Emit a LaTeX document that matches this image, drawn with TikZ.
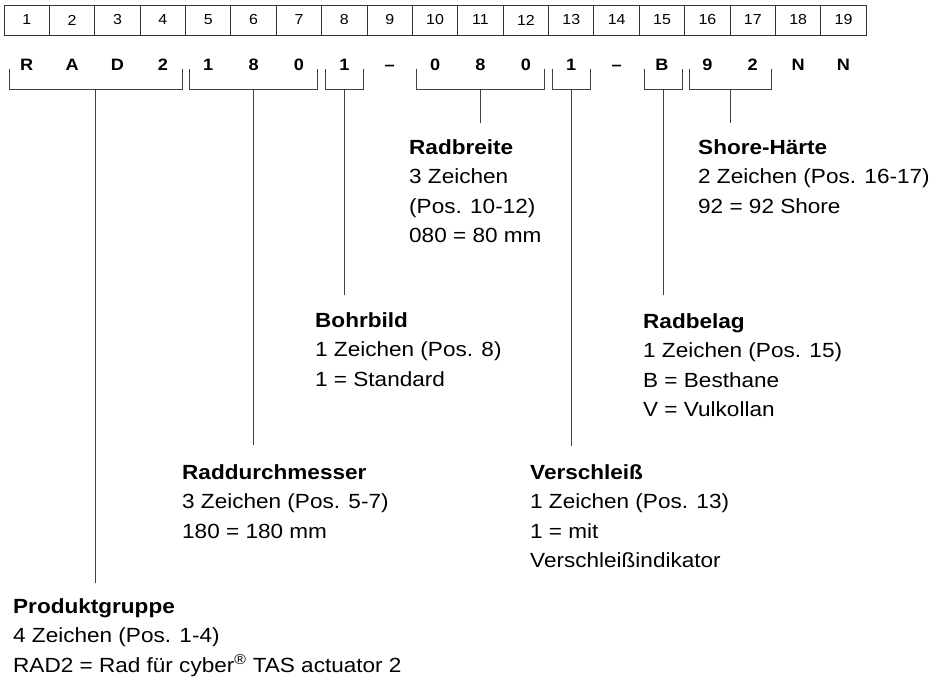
\documentclass[tikz,border=0pt]{standalone}
\usepackage{fontspec}
\setmainfont{Liberation Sans}[FakeStretch=1.1]
\begin{document}
\begin{tikzpicture}[x=1pt,y=-1pt,
  line/.style={draw=black!75,line width=0.9pt},
  cell/.style={draw=black!80,line width=0.9pt,minimum width=45.38pt,minimum height=30pt,inner sep=0pt,
    font=\fontsize{14.5}{17}\selectfont},
  letter/.style={anchor=base,inner sep=0pt,font=\bfseries\fontsize{16.5}{20}\selectfont},
  lbl/.style={anchor=north west,inner sep=0pt,align=left,font=\fontsize{20.5}{29.5}\selectfont},
]
\useasboundingbox[fill=white] (0,0) rectangle (944,680);
% header cells and code letters
\foreach \t [count=\i] in {R,A,D,2,1,8,0,1,–,0,8,0,1,–,B,9,2,N,N}{
  \node[cell] (c\i) at ({4+45.38*(\i-0.5)},20) {\i};
  \node[letter] (l\i) at ({4+45.38*(\i-0.5)},70) {\t};
}
% labels
\node[lbl] (prod) at (13,598) {\textbf{Produktgruppe}\\4 Zeichen (Pos. 1-4)\\RAD2 = Rad für cyber\textsuperscript{®} TAS actuator 2};
\node[lbl] (durch) at (182,464) {\textbf{Raddurchmesser}\\3 Zeichen (Pos. 5-7)\\180 = 180 mm};
\node[lbl] (bohr) at (315,312) {\textbf{Bohrbild}\\1 Zeichen (Pos. 8)\\1 = Standard};
\node[lbl] (breite) at (409,139) {\textbf{Radbreite}\\3 Zeichen\\(Pos. 10-12)\\080 = 80 mm};
\node[lbl] (versch) at (530,464) {\textbf{Verschleiß}\\1 Zeichen (Pos. 13)\\1 = mit\\Verschleißindikator};
\node[lbl] (belag) at (643,313) {\textbf{Radbelag}\\1 Zeichen (Pos. 15)\\B = Besthane\\V = Vulkollan};
\node[lbl] (shore) at (698,139) {\textbf{Shore-Härte}\\2 Zeichen (Pos. 16-17)\\92 = 92 Shore};
% brackets
\foreach \a/\b/\n in {9/182/b1,189/317/b2,325/363/b3,416/544/b4,552/590/b5,644/682/b6,689/771/b7}{
  \draw[line] (\a,69) |- (\b,89) -- (\b,69);
  \coordinate (\n) at ({(\a+\b)/2},89);
}
% stems
\draw[line] (b1) -- ([yshift=15pt]b1 |- prod.north);
\draw[line] (b2) -- ([yshift=19pt]b2 |- durch.north);
\draw[line] (b3) -- ([yshift=17pt]b3 |- bohr.north);
\draw[line] (b4) -- ([yshift=16pt]b4 |- breite.north);
\draw[line] (b5) -- ([yshift=18pt]b5 |- versch.north);
\draw[line] (b6) -- ([yshift=18pt]b6 |- belag.north);
\draw[line] (b7) -- ([yshift=16pt]b7 |- shore.north);
\end{tikzpicture}
\end{document}
